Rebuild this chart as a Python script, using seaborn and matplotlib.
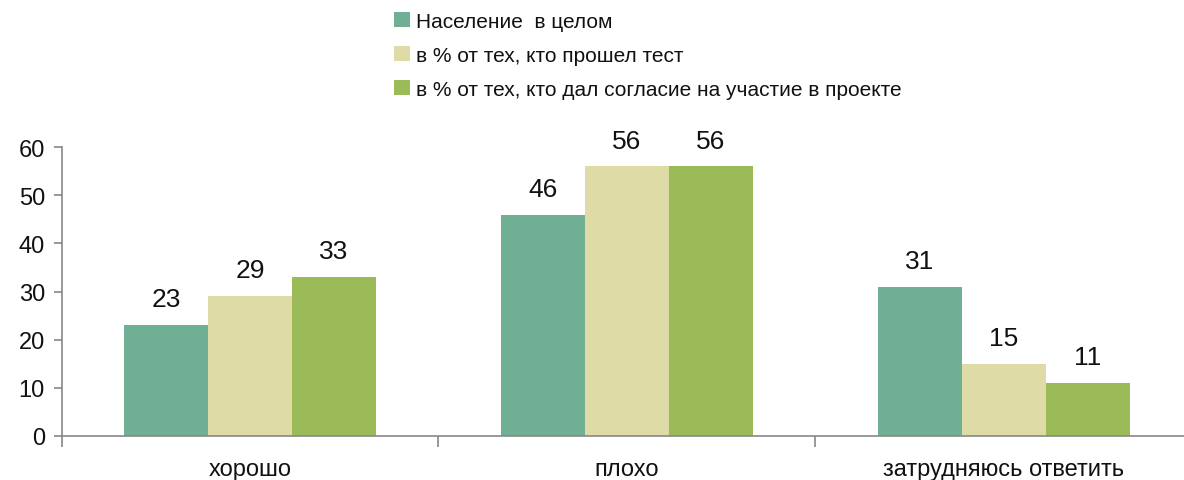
import matplotlib
matplotlib.use("Agg")
import matplotlib.pyplot as plt
import seaborn as sns
import pandas as pd

categories = ["хорошо", "плохо", "затрудняюсь ответить"]
series = ["Население  в целом",
          "в % от тех, кто прошел тест",
          "в % от тех, кто дал согласие на участие в проекте"]
vals_all = [23, 46, 31]
vals_test = [29, 56, 15]
vals_agree = [33, 56, 11]
colors = ["#71AF94", "#DFDBA6", "#9BBB59"]

df = pd.DataFrame({
    "cat": categories * 3,
    "series": [series[0]] * 3 + [series[1]] * 3 + [series[2]] * 3,
    "val": vals_all + vals_test + vals_agree,
})

sns.set_style("white")
plt.rcParams['font.family'] = ['Liberation Sans', 'DejaVu Sans']

fig = plt.figure(figsize=(11.84, 4.81), dpi=100)
ax = fig.add_axes([0.052, 0.0915, 0.955, 0.6005])

sns.barplot(data=df, x="cat", y="val", hue="series", palette=colors,
            width=0.667, saturation=1, ax=ax, legend=True, linewidth=0)

for cont in ax.containers:
    ax.bar_label(cont, padding=10, fontsize=19, color="#111111")

ax.set_ylim(0, 60)
ax.set_yticks(range(0, 61, 10))
ax.set_xlim(-0.5, 2.5)
ax.set_xlabel("")
ax.set_ylabel("")

for s in ["top", "right"]:
    ax.spines[s].set_visible(False)
for s in ["left", "bottom"]:
    ax.spines[s].set_color("#888888")
    ax.spines[s].set_linewidth(1.2)

ax.tick_params(axis="y", which="major", left=True, length=6, width=1.2,
               color="#888888", labelsize=17, pad=6, labelcolor="#111111")
ax.tick_params(axis="x", which="major", bottom=False, labelsize=17, pad=12,
               labelcolor="#111111")
ax.set_xticks([-0.5, 0.5, 1.5, 2.5], minor=True)
ax.tick_params(axis="x", which="minor", bottom=True, length=8, width=1.2,
               color="#888888")

handles, labels = ax.get_legend_handles_labels()
ax.get_legend().remove()
fig.legend(handles, labels, loc="upper left", bbox_to_anchor=(0.317, 1.012),
           frameon=False, fontsize=15, handlelength=0.75, handleheight=0.75,
           handletextpad=0.3, labelspacing=0.72, labelcolor="#111111")

fig.savefig("out.png", dpi=100)
